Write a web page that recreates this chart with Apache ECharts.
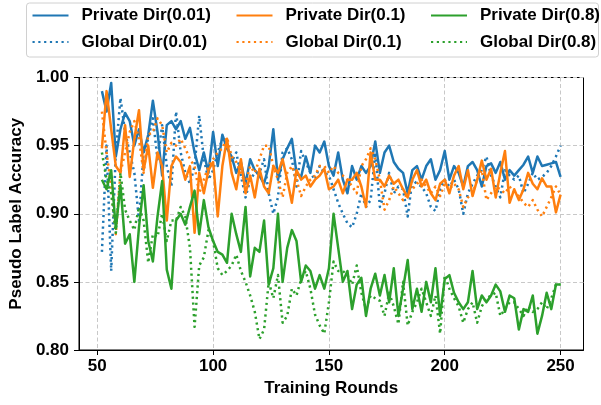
<!DOCTYPE html>
<html>
<head>
<meta charset="utf-8">
<script src="https://cdn.jsdelivr.net/npm/echarts@6/dist/echarts.min.js"></script>
<style>html,body{margin:0;padding:0;background:#fff;}#c{width:601px;height:405px;}</style>
</head>
<body>
<div id="c"></div>
<script>
const rounds = [52,54,56,58,60,62,64,66,68,70,72,74,76,78,80,82,84,86,88,90,92,94,96,98,100,102,104,106,108,110,112,114,116,118,120,122,124,126,128,130,132,134,136,138,140,142,144,146,148,150,152,154,156,158,160,162,164,166,168,170,172,174,176,178,180,182,184,186,188,190,192,194,196,198,200,202,204,206,208,210,212,214,216,218,220,222,224,226,228,230,232,234,236,238,240,242,244,246,248,250];

const privateDir001 = [0.990,0.975,0.996,0.942,0.962,0.974,0.968,0.950,0.962,0.945,0.958,0.983,0.960,0.928,0.965,0.968,
0.962,0.968,0.955,0.963,0.945,0.932,0.945,0.930,0.960,0.935,0.958,0.948,0.942,0.930,0.938,0.922,0.940,0.932,
0.928,0.922,0.935,0.962,0.925,0.940,0.948,0.955,0.930,0.927,0.942,0.930,0.950,0.945,0.953,0.935,0.928,0.945,
0.925,0.915,0.935,0.925,0.935,0.930,0.935,0.953,0.930,0.945,0.950,0.938,0.933,0.930,0.915,0.932,0.935,0.925,
0.935,0.940,0.925,0.932,0.946,0.925,0.935,0.930,0.920,0.935,0.938,0.932,0.920,0.935,0.937,0.930,0.938,0.925,0.932,
0.928,0.932,0.936,0.942,0.930,0.942,0.935,0.936,0.937,0.938,0.927];

const globalDir001 = [0.872,0.950,0.858,0.945,0.985,0.960,0.945,0.930,0.895,0.945,0.955,0.970,0.940,0.965,0.935,0.920,
0.975,0.945,0.930,0.922,0.935,0.972,0.940,0.925,0.932,0.945,0.955,0.950,0.938,0.945,0.928,0.912,0.925,0.930,
0.930,0.940,0.915,0.900,0.912,0.945,0.948,0.940,0.920,0.946,0.938,0.930,0.925,0.935,0.930,0.928,0.918,0.908,
0.900,0.893,0.890,0.900,0.915,0.905,0.910,0.945,0.905,0.915,0.930,0.915,0.920,0.918,0.898,0.925,0.922,0.920,
0.915,0.905,0.902,0.918,0.925,0.920,0.925,0.918,0.900,0.915,0.922,0.928,0.932,0.942,0.928,0.920,0.912,0.932,0.928,
0.925,0.928,0.915,0.922,0.930,0.925,0.927,0.930,0.935,0.942,0.950];

const privateDir01 = [0.948,0.990,0.962,0.935,0.930,0.965,0.927,0.955,0.976,0.932,0.950,0.919,0.945,0.935,0.895,0.935,
0.942,0.938,0.925,0.935,0.886,0.930,0.915,0.932,0.938,0.898,0.935,0.955,0.930,0.918,0.940,0.915,0.928,0.912,
0.933,0.920,0.915,0.935,0.930,0.940,0.925,0.908,0.932,0.925,0.928,0.920,0.925,0.928,0.933,0.918,0.920,0.925,
0.915,0.925,0.925,0.930,0.920,0.905,0.945,0.925,0.925,0.920,0.928,0.922,0.925,0.918,0.912,0.925,0.932,0.920,
0.925,0.915,0.910,0.922,0.925,0.915,0.928,0.935,0.918,0.932,0.913,0.925,0.939,0.925,0.933,0.912,0.930,0.946,0.908,
0.918,0.910,0.918,0.930,0.922,0.918,0.926,0.920,0.920,0.901,0.914];

const globalDir01 = [0.975,0.945,0.920,0.885,0.930,0.945,0.960,0.968,0.955,0.930,0.958,0.960,0.970,0.965,0.945,0.952,
0.950,0.955,0.948,0.940,0.935,0.915,0.925,0.935,0.940,0.945,0.948,0.956,0.942,0.938,0.930,0.922,0.935,0.930,
0.940,0.950,0.950,0.935,0.925,0.912,0.930,0.935,0.925,0.913,0.920,0.925,0.928,0.935,0.935,0.930,0.935,0.930,
0.928,0.925,0.920,0.915,0.935,0.940,0.948,0.940,0.925,0.903,0.910,0.920,0.915,0.910,0.915,0.918,0.922,0.925,
0.920,0.915,0.920,0.913,0.922,0.918,0.922,0.918,0.905,0.912,0.915,0.925,0.932,0.910,0.915,0.920,0.918,0.915,0.920,
0.915,0.913,0.908,0.905,0.910,0.903,0.898,0.905,0.912,0.920,0.914];

const privateDir08 = [0.925,0.918,0.932,0.889,0.921,0.878,0.885,0.850,0.890,0.921,0.880,0.865,0.898,0.924,0.859,0.845,
0.895,0.900,0.892,0.905,0.917,0.885,0.910,0.890,0.880,0.872,0.870,0.864,0.900,0.885,0.872,0.905,0.854,0.875,
0.872,0.895,0.848,0.860,0.900,0.850,0.875,0.888,0.880,0.850,0.862,0.858,0.845,0.855,0.845,0.860,0.900,0.875,
0.850,0.858,0.830,0.848,0.853,0.825,0.845,0.856,0.840,0.855,0.835,0.860,0.825,0.845,0.866,0.830,0.845,0.828,
0.850,0.835,0.860,0.825,0.852,0.855,0.842,0.835,0.830,0.835,0.858,0.830,0.840,0.835,0.840,0.848,0.843,0.828,0.840,
0.838,0.815,0.830,0.828,0.840,0.812,0.825,0.842,0.830,0.848,0.848];

const globalDir08 = [0.945,0.925,0.915,0.886,0.930,0.903,0.895,0.888,0.905,0.895,0.864,0.885,0.883,0.900,0.880,0.895,
0.895,0.905,0.898,0.875,0.817,0.862,0.868,0.888,0.880,0.860,0.855,0.858,0.862,0.870,0.858,0.850,0.840,0.828,
0.808,0.815,0.850,0.838,0.855,0.820,0.825,0.845,0.840,0.852,0.858,0.845,0.826,0.818,0.812,0.835,0.865,0.858,
0.858,0.855,0.848,0.862,0.842,0.830,0.840,0.838,0.836,0.825,0.842,0.832,0.819,0.850,0.818,0.828,0.835,0.845,
0.835,0.825,0.840,0.812,0.855,0.845,0.838,0.832,0.820,0.830,0.835,0.820,0.832,0.838,0.840,0.842,0.825,0.830,0.835,
0.835,0.830,0.825,0.832,0.828,0.830,0.835,0.830,0.838,0.848,0.848];

const xTicks = [50,100,150,200,250];
const seriesNames = ['Private Dir(0.01)','Global Dir(0.01)','Private Dir(0.1)','Global Dir(0.1)','Private Dir(0.8)','Global Dir(0.8)'];
const seriesData = [privateDir001, globalDir001, privateDir01, globalDir01, privateDir08, globalDir08];
const colors = ['#1f77b4','#1f77b4','#ff7f0e','#ff7f0e','#2ca02c','#2ca02c'];

const FONT = '"Liberation Sans", Arial, sans-serif';
const DOT = [2.2, 3.6];

const series = seriesNames.map((name, i) => ({
  name: name,
  type: 'line',
  data: rounds.map((r, k) => [r, seriesData[i][k]]),
  showSymbol: false,
  symbol: 'circle',
  symbolSize: 0,
  animation: false,
  lineStyle: {
    color: colors[i],
    width: 2.5,
    type: (i % 2 === 1) ? DOT : 'solid',
    cap: 'butt',
    join: 'round'
  },
  itemStyle: { color: colors[i] },
  z: 2 + i
}));

const legendText = { fontFamily: FONT, fontWeight: 'bold', fontSize: 17, color: '#000', lineHeight: 18, padding: [0,0,0,8] };
function mkLegend(left, names) {
  return {
    orient: 'vertical', left: left, top: 6.5, padding: 0,
    itemWidth: 36, itemHeight: 14, itemGap: 8.6,
    data: names, textStyle: legendText, selectedMode: false,
    itemStyle: { opacity: 0, borderWidth: 0 }
  };
}

const chart = echarts.init(document.getElementById('c'), null, { renderer: 'canvas' });
chart.setOption({
  animation: false,
  backgroundColor: '#fff',
  color: colors,
  grid: { left: 77.5, right: 17.5, top: 77.5, bottom: 55, show: true, borderColor: '#000', borderWidth: 1, containLabel: false },
  graphic: [{
    type: 'rect', left: 26, top: 2.5, z: -1,
    shape: { width: 572, height: 54, r: 3 },
    style: { fill: '#fff', stroke: '#d0d0d0', lineWidth: 1 }
  }],
  legend: [
    mkLegend(31.5, [seriesNames[0], seriesNames[1]]),
    mkLegend(235.5, [seriesNames[2], seriesNames[3]]),
    mkLegend(430, [seriesNames[4], seriesNames[5]])
  ],
  xAxis: {
    type: 'value', min: 42.1, max: 259.9,
    name: 'Training Rounds', nameLocation: 'middle', nameGap: 30,
    nameTextStyle: { fontFamily: FONT, fontWeight: 'bold', fontSize: 17, color: '#000' },
    axisLine: { show: true, onZero: false, lineStyle: { color: '#000', width: 1 } },
    axisTick: { show: true, length: 5, customValues: xTicks, lineStyle: { color: '#000' } },
    axisLabel: { customValues: xTicks, margin: 8, fontFamily: FONT, fontWeight: 'bold', fontSize: 17, color: '#000' },
    splitLine: { show: true, lineStyle: { color: '#c8c8c8', type: [4, 2.5], width: 1 } }
  },
  yAxis: {
    type: 'value', min: 0.80, max: 1.00, interval: 0.05,
    name: 'Pseudo Label Accuracy', nameLocation: 'middle', nameGap: 52,
    nameTextStyle: { fontFamily: FONT, fontWeight: 'bold', fontSize: 17, color: '#000' },
    axisLine: { show: true, onZero: false, lineStyle: { color: '#000', width: 1 } },
    axisTick: { show: true, length: 5, lineStyle: { color: '#000' } },
    axisLabel: { margin: 10, fontFamily: FONT, fontWeight: 'bold', fontSize: 17, color: '#000', formatter: v => v.toFixed(2) },
    splitLine: { show: true, lineStyle: { color: '#c8c8c8', type: [4, 2.5], width: 1 } }
  },
  series: series
});
</script>
</body>
</html>
